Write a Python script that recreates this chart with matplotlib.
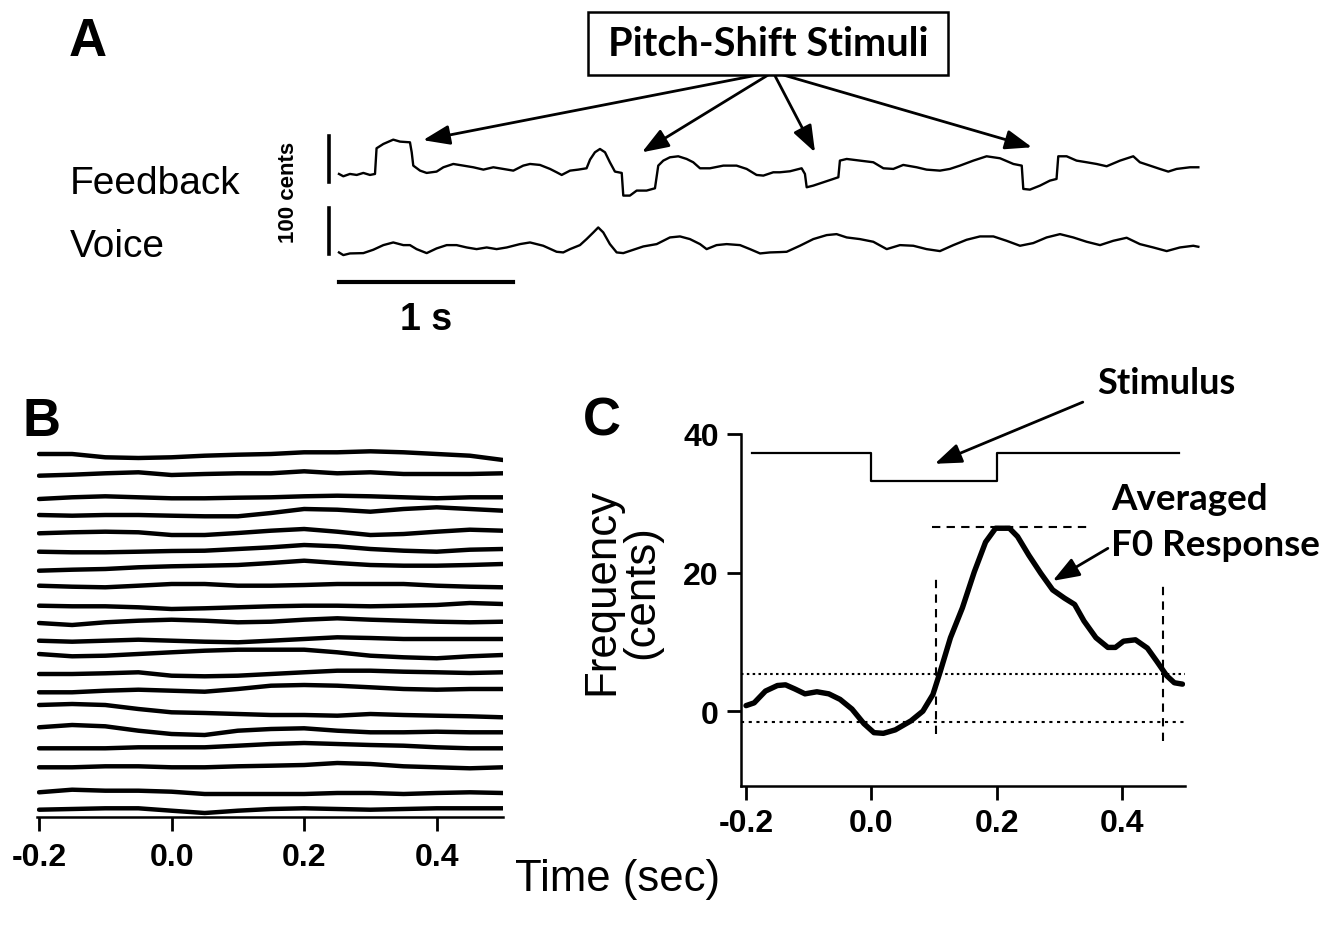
import numpy as np
import matplotlib.pyplot as plt
from matplotlib.patches import Rectangle

plt.rcParams['font.family'] = ['Liberation Sans', 'DejaVu Sans']
plt.rcParams['axes.unicode_minus'] = False

W, H = 1321, 929

# ---- Panel A: feedback and voice pitch traces (time in s, pitch in cents)
fb_t = [0.0, 0.025, 0.063, 0.102, 0.140, 0.178, 0.207, 0.216, 0.255, 0.312,
        0.351, 0.408, 0.418, 0.427, 0.466, 0.504, 0.561, 0.600, 0.657, 0.715,
        0.772, 0.830, 0.887, 0.944, 1.002, 1.059, 1.098, 1.155, 1.213, 1.251,
        1.280, 1.328, 1.375, 1.423, 1.443, 1.471, 1.500, 1.529, 1.557, 1.586,
        1.625, 1.634, 1.672, 1.711, 1.768, 1.816, 1.835, 1.864, 1.902, 1.950,
        1.998, 2.036, 2.075, 2.132, 2.209, 2.285, 2.343, 2.400, 2.439, 2.496,
        2.534, 2.592, 2.659, 2.678, 2.688, 2.726, 2.784, 2.841, 2.870, 2.879,
        2.918, 2.994, 3.071, 3.129, 3.186, 3.243, 3.320, 3.377, 3.454, 3.511,
        3.569, 3.646, 3.722, 3.799, 3.876, 3.924, 3.933, 3.971, 4.029, 4.086,
        4.124, 4.134, 4.182, 4.239, 4.297, 4.354, 4.412, 4.489, 4.565, 4.603,
        4.661, 4.718, 4.766, 4.814, 4.891, 4.939]
fb_c = [0, -5.1, 0, -2.2, 2.2, -2.2, 0, 55.8, 65.2, 74.6,
        70.3, 68.8, 47.1, 18.1, 7.2, 2.2, 5.1, 14.5, 21.7, 18.1,
        14.5, 9.4, 14.5, 10.9, 7.2, 18.1, 21.7, 19.6, 10.9, 3.6,
        -2.2, 7.2, 9.4, 12.3, 31.2, 47.1, 54.3, 47.1, 25.4, 5.1,
        2.2, -47.1, -47.1, -36.2, -36.2, -31.2, 18.1, 29.0, 36.2, 38.4,
        32.6, 25.4, 12.3, 12.3, 18.1, 18.1, 10.9, -2.2, -3.6, 3.6,
        3.6, 5.8, 12.3, 0, -29.0, -25.4, -18.1, -10.9, -7.2, 29.0,
        32.6, 29.0, 25.4, 12.3, 10.9, 19.6, 14.5, 9.4, 7.2, 10.9,
        18.1, 29.0, 38.4, 34.1, 21.7, 18.1, -32.6, -34.1, -25.4, -14.5,
        -10.9, 38.4, 38.4, 29.0, 25.4, 21.7, 16.7, 29.0, 38.4, 25.4,
        18.1, 10.9, 5.1, 10.9, 14.5, 14.5]

voice_t = [0.0, 0.025, 0.063, 0.140, 0.197, 0.255, 0.312, 0.370, 0.408, 0.446,
           0.504, 0.561, 0.619, 0.676, 0.734, 0.791, 0.849, 0.906, 0.964, 1.040,
           1.098, 1.174, 1.251, 1.289, 1.328, 1.385, 1.423, 1.462, 1.490, 1.519,
           1.557, 1.596, 1.634, 1.692, 1.749, 1.826, 1.902, 1.960, 2.017, 2.075,
           2.113, 2.170, 2.228, 2.305, 2.362, 2.420, 2.477,
           2.534, 2.573, 2.649, 2.726, 2.803, 2.860, 2.918, 2.994, 3.071, 3.148,
           3.224, 3.301, 3.377, 3.454, 3.531, 3.607, 3.684, 3.761, 3.837, 3.914,
           3.990, 4.067, 4.144, 4.220, 4.297, 4.374, 4.450, 4.527, 4.603, 4.680,
           4.757, 4.833, 4.910, 4.939]
voice_c = [-0.7, -6.5, -2.9, -2.2, 5.1, 15.2, 21.0, 15.2, 15.2, 6.5,
           -2.2, 8.0, 15.2, 15.2, 10.1, 6.5, 10.1, 6.5, 10.1, 17.4,
           21.0, 13.8, 0.7, -0.7, 6.5, 15.2, 28.3, 42.8, 53.6, 42.8,
           17.4, -0.7, -2.2, 5.1, 12.3, 17.4, 31.9, 34.1, 28.3, 17.4,
           6.5, 15.2, 17.4, 15.2, 6.5, -2.9, -0.7,
           0, 0.7, 13.8, 28.3, 37.0, 39.1, 31.9, 28.3, 22.5, 6.5,
           15.2, 13.8, 6.5, 2.2, 15.2, 26.8, 34.1, 34.1, 24.6, 13.8,
           19.6, 31.9, 39.1, 31.9, 22.5, 15.2, 24.6, 31.2, 17.4, 10.1,
           2.2, 10.1, 13.8, 11.6]

fb_offset = 170          # cents between the two traces on the page
# arrow tips (time, cents) pointing at the four shifts
stim_tips_t = [0.483, 1.741, 2.736, 3.983]
stim_tips_c = [243.5, 217, 217, 228]

# ---- Panel B: single trials (time in s, cents re trace level)
trial_t = [-0.2, -0.15, -0.1, -0.05, 0.0, 0.05, 0.1, 0.15, 0.2, 0.25,
           0.3, 0.35, 0.4, 0.45, 0.5]
trial_level = [363, 343, 320, 304, 285, 267, 250, 231, 211, 196,
               177, 163, 144, 128, 106, 87, 70, 51, 24, 8]
trials = [
    [0, 0, -3.3, -4, -3.3, -1.7, -0.7, 0, 1.7, 1.7, 2.7, 1.7, 0, -1.7, -6],
    [-1.7, -0.7, 0.7, 1.7, -1, 0, 0.7, 0.7, 2.7, 0.7, 1.7, 0, 0, 0, 0.7],
    [-2, -0.3, 0.7, -0.3, -1.3, -1.3, -0.7, -0.3, 0.7, 1.3, 0.7, -0.3, -1.3, -0.3, -0.3],
    [-2, -2.7, -2, -2, -2.7, -3.3, -3.3, 0, 4, 3.3, 1.3, 4, 5.7, 4, 2.3],
    [-1.3, -0.3, 0.3, -0.3, -3, -3, -1, 1.3, 3, 0.3, -3, -2, 0.3, 2.3, 1.3],
    [-1.7, -2.3, -2.3, -1.7, -1, -0.7, 1, 2.7, 5, 3.7, 1, -0.7, -1.7, 0.3, 1],
    [-3.7, -2.7, -2, -0.3, 0.7, 1.3, 2, 4, 6.3, 4, 2, 1.3, 1.3, 2, 3],
    [0.3, -0.7, -1.3, 0.3, 2, 2, 0.3, 0.3, 1, 2, 2, 2, 0.3, -0.7, -1.3],
    [0.3, -0.3, -0.3, -1.3, -3, -2.3, -1.3, -0.3, 0.3, 0.3, -0.3, 0.3, 1, 3, 2],
    [-2, -4, -1.3, 0.3, 1.3, 0.3, -1.3, -0.7, 1.3, 2.7, 1.3, 0.3, -0.7, -1.3, -0.7],
    [-0.7, -1.7, -0.7, 0.3, -0.7, -1.7, -2.3, -0.7, 1, 2.7, 2, 1, 1, 1, 1],
    [0, -2.3, -1.7, 0, 1.7, 3.3, 4.3, 4.3, 4.3, 1.7, -1.7, -3.3, -4.3, -2.3, -1],
    [-1, -1, -0.3, 0.7, -2.7, -3.3, -2.7, -1, 0.7, 2.3, 2.3, 1.3, 0.7, 0, 0.7],
    [-3.3, -3.3, -1.7, -0.7, -1.7, -2.7, 0, 3.3, 4, 3.3, 1.7, 0, -0.7, 0, 0],
    [6, 7, 6, 2, -1.3, -2, -3, -4, -4, -4.7, -3, -4, -4.7, -5.3, -6.3],
    [2.7, 5, 3.7, -0.7, -4, -5, -0.7, 1, 1.7, -0.7, -2.3, -2.3, -1.7, -2.3, -2.3],
    [-1.3, -1.3, -1.3, -0.3, -0.3, -0.3, 1.3, 3, 4, 3, 2, 1.3, -0.3, -1.3, -1.3],
    [-1.3, -1.3, -0.3, -0.3, -1.3, -1.3, -0.3, 0.3, 1, 3, 2, -0.3, -1.3, -2.3, -1.3],
    [0.7, 3.3, 2.3, 2.3, 1.3, -1, -1, -1, -1, 0, 0, -1, 0, 0.7, 0],
    [-0.7, 0, 0.7, 0.7, -1.7, -4, -1.7, 0, 0.7, 0, -0.7, 0, 0.7, 0.7, 0.7],
]

# ---- Panel C: stimulus and averaged F0 response
stim_t = [-0.19, 0.0, 0.0, 0.2, 0.2, 0.49]
stim_c = [37.3, 37.3, 33.2, 33.2, 37.3, 37.3]
resp_t = [-0.2, -0.187, -0.169, -0.15, -0.137, -0.122, -0.106, -0.087, -0.068, -0.05,
          -0.031, -0.012, 0.004, 0.019, 0.038, 0.063, 0.082, 0.098, 0.11, 0.126,
          0.145, 0.164, 0.182, 0.198, 0.22, 0.233, 0.251, 0.27, 0.289, 0.308,
          0.324, 0.339, 0.358, 0.377, 0.389, 0.402, 0.421, 0.44, 0.455, 0.471,
          0.483, 0.496]
resp_c = [0.8, 1.2, 2.9, 3.7, 3.8, 3.2, 2.5, 2.8, 2.5, 1.7,
          0.3, -1.8, -3.1, -3.2, -2.7, -1.4, 0.0, 2.4, 5.8, 10.6,
          14.9, 20.1, 24.4, 26.4, 26.4, 25.2, 22.5, 19.9, 17.5, 16.3,
          15.4, 13.0, 10.6, 9.2, 9.2, 10.1, 10.3, 9.1, 7.2, 5.1,
          4.1, 3.9]
thr_hi, thr_lo = 5.3, -1.5
peak_c, peak_t0, peak_t1 = 26.6, 0.097, 0.345
onset_t, onset_lim = 0.103, (-3.3, 19.2)
offset_t, offset_lim = 0.465, (-4.3, 18.2)


def fx(x):
    return x / W


def fy(y):
    return 1 - y / H


arrow_style = dict(arrowstyle='-|>,head_length=0.65,head_width=0.24',
                   mutation_scale=25, lw=2, color='black', shrinkA=0, shrinkB=0)
label_font = ['Lato', 'DejaVu Sans']

fig = plt.figure(figsize=(13.21, 9.29), dpi=100)

# ================= A =================
axA = fig.add_axes([fx(300), fy(300), fx(910), 200 / H])
axA.set_xlim(-0.224, 5.006)
axA.set_ylim(-102, 333)
axA.axis('off')
axA.plot(fb_t, np.array(fb_c) + fb_offset, color='black', lw=1.7)
axA.plot(voice_t, voice_c, color='black', lw=1.7)
# scale bars
axA.plot([-0.057, -0.057], [fb_offset - 18, fb_offset + 82], color='black', lw=2.6)
axA.plot([-0.057, -0.057], [-4, 96], color='black', lw=2.6)
axA.plot([0, 1], [-65, -65], color='black', lw=3)
axA.text(0.5, -146, '1 s', ha='center', va='center', fontsize=27, fontweight='bold')

fig.text(fx(288), fy(192), '100 cents', rotation=90, ha='center', va='center',
         fontsize=16, fontweight='bold')
fig.text(fx(70), fy(184), 'Feedback', ha='left', va='center', fontsize=28)
fig.text(fx(70), fy(247), 'Voice', ha='left', va='center', fontsize=28)
fig.text(fx(88), fy(42), 'A', ha='center', va='center', fontsize=38, fontweight='bold')

# box and arrows
fig.patches.append(Rectangle((fx(588), fy(76)), fx(360), 63 / H, transform=fig.transFigure,
                             fc='white', ec='black', lw=1.8))
fig.text(fx(768), fy(45), 'Pitch-Shift Stimuli', ha='center', va='center',
         fontsize=28.5, family=label_font, fontweight='bold')
for tt, cc in zip(stim_tips_t, stim_tips_c):
    axA.annotate('', xy=(tt, cc), xytext=(773, H - 73), textcoords='figure pixels',
                 arrowprops=arrow_style)

# ================= B =================
axB = fig.add_axes([fx(37), fy(818), fx(466), 373 / H])
for lvl, dev in zip(trial_level, trials):
    axB.plot(trial_t, lvl + np.array(dev), color='black', lw=3.2,
             solid_capstyle='round', solid_joinstyle='round')
axB.set_xlim(-0.203, 0.5)
axB.set_ylim(0, 373)
for s in ['top', 'right', 'left']:
    axB.spines[s].set_visible(False)
axB.spines['bottom'].set_linewidth(1.8)
axB.set_yticks([])
axB.set_xticks([-0.2, 0.0, 0.2, 0.4])
axB.set_xticklabels(['-0.2', '0.0', '0.2', '0.4'])
axB.tick_params(axis='x', length=10, width=2, labelsize=23, pad=8)
for lab in axB.get_xticklabels():
    lab.set_fontweight('bold')
fig.text(fx(42), fy(422), 'B', ha='center', va='center', fontsize=38, fontweight='bold')

# ================= C =================
axC = fig.add_axes([fx(741), fy(787), fx(444), 352 / H])
axC.plot(stim_t, stim_c, color='black', lw=1.6)
axC.plot(resp_t, resp_c, color='black', lw=3.9, solid_capstyle='round',
         solid_joinstyle='round')
axC.axhline(thr_hi, color='black', lw=1.5, ls=(0, (1.2, 1.6)))
axC.axhline(thr_lo, color='black', lw=1.5, ls=(0, (1.5, 2.2)))
axC.plot([peak_t0, peak_t1], [peak_c, peak_c], color='black', lw=1.5, ls=(0, (4, 3)))
axC.plot([onset_t, onset_t], onset_lim, color='black', lw=1.5, ls=(0, (4, 3)))
axC.plot([offset_t, offset_t], offset_lim, color='black', lw=1.5, ls=(0, (4, 3)))
axC.set_xlim(-0.208, 0.5)
axC.set_ylim(-10.8, 40)
for s in ['top', 'right']:
    axC.spines[s].set_visible(False)
for s in ['left', 'bottom']:
    axC.spines[s].set_linewidth(1.8)
axC.set_xticks([-0.2, 0.0, 0.2, 0.4])
axC.set_xticklabels(['-0.2', '0.0', '0.2', '0.4'])
axC.set_yticks([0, 20, 40])
axC.tick_params(axis='both', length=10, width=2, labelsize=23, pad=6)
for lab in axC.get_xticklabels() + axC.get_yticklabels():
    lab.set_fontweight('bold')

axC.annotate('', xy=(0.101, 35.7), xytext=(0.337, 44.6),
             arrowprops=arrow_style, annotation_clip=False)
axC.annotate('', xy=(0.289, 18.8), xytext=(0.377, 23.5),
             arrowprops=arrow_style, annotation_clip=False)
fig.text(fx(1166), fy(383), 'Stimulus', ha='center', va='center', fontsize=26,
         family=label_font, fontweight='bold')
fig.text(fx(1111), fy(500), 'Averaged', ha='left', va='center', fontsize=26.5,
         family=label_font, fontweight='bold')
fig.text(fx(1111), fy(545), 'F0 Response', ha='left', va='center', fontsize=26.5,
         family=label_font, fontweight='bold')
fig.text(fx(602), fy(422), 'C', ha='center', va='center', fontsize=38, fontweight='bold')

fig.text(fx(622), fy(592), 'Frequency\n(cents)', rotation=90, ha='center', va='center',
         fontsize=31.5, linespacing=0.95, multialignment='center')
fig.text(fx(618), fy(880), 'Time (sec)', ha='center', va='center', fontsize=31.5)

fig.savefig('out.png', dpi=100)
